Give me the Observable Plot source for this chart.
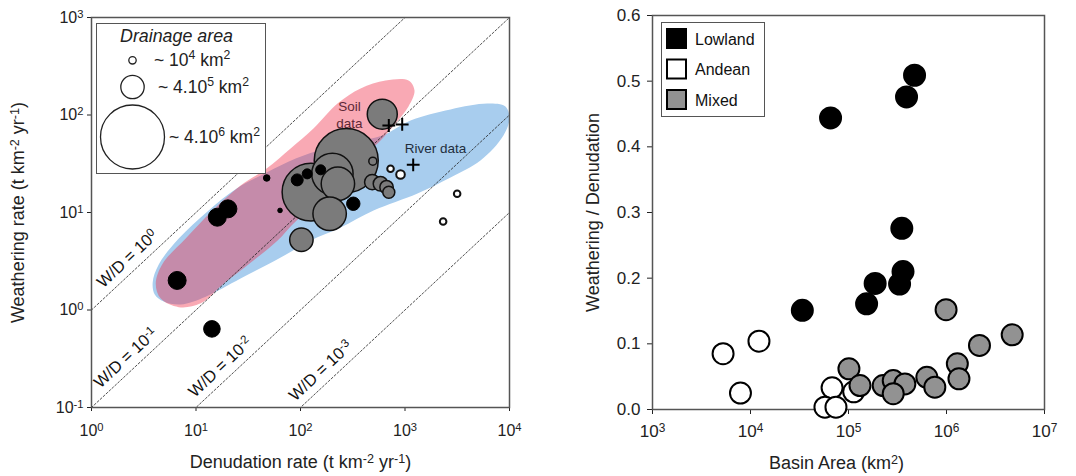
<!DOCTYPE html>
<html><head><meta charset="utf-8">
<script src="https://cdn.jsdelivr.net/npm/d3@7"></script>
<script src="https://cdn.jsdelivr.net/npm/@observablehq/plot@0.6"></script>
<style>
body{margin:0;background:#fff;font-family:"Liberation Sans",Arial,Helvetica,sans-serif;}
#wrap{position:relative;width:1076px;height:476px;overflow:hidden;}
#left,#right{position:absolute;top:0;}
#left{left:0;} #right{left:540px;}
.legend{position:absolute;background:#fff;border:1.5px solid #555;box-sizing:border-box;}
#legL{left:96px;top:23px;width:170px;height:151px;}
#legR{left:661px;top:22px;width:104px;height:95px;}
</style></head><body>
<div id="wrap"><div id="left"></div><div id="right"></div>
<div id="legL" class="legend"></div><div id="legR" class="legend"></div></div>
<script>
// ---------- LEFT PANEL DATA ----------
const lowlandDen  = [6.6, 14.2, 16.0, 20.2, 47.5, 63.7, 93, 116, 156, 320];
const lowlandWea  = [2.01, 0.64, 8.95, 10.9, 22.6, 10.5, 21.6, 24.9, 27.4, 12.3];
const lowlandArea = [2.05e5, 1.65e5, 2.05e5, 2.05e5, 7.9e3, 3.9e3, 6.4e4, 3.5e4, 3.5e4, 9e4];

const mixedDen  = [274, 126, 202, 228, 190, 102, 606, 486, 583, 666, 700, 492];
const mixedWea  = [34.1, 16.2, 24.9, 19.7, 9.7, 5.25, 102, 20.5, 19.7, 18.2, 16.1, 33.6];
const mixedArea = [4.0e6, 3.2e6, 1.53e6, 9.4e5, 9.4e5, 4.0e5, 7.3e5, 1.34e5, 1.15e5, 9e4, 6.4e4, 1.44e4];

const andeanDen  = [727, 906, 3155, 2317];
const andeanWea  = [28.1, 24.5, 15.6, 8.1];
const andeanArea = [7.9e3, 1.96e4, 7.9e3, 7.9e3];

const crossDen = [700, 940, 1198];
const crossWea = [78, 80, 30.8];

// envelopes (denudation, weathering)
const soilEnvDen = [4.12, 4.81, 7.97, 14.4, 26.7, 47.4, 80.4, 133, 226, 376, 652, 1080, 1233, 1080, 811, 583, 376, 194, 85.9, 60.4, 26.7, 18.0, 11.1, 6.84, 4.60];
const soilEnvWea = [1.87, 3.0, 5.41, 10.5, 18.9, 28.3, 45.3, 72.7, 131, 187, 226, 226, 178, 122, 81.8, 54.7, 35.8, 16.8, 7.71, 5.16, 2.54, 1.83, 1.17, 1.07, 1.31];
const riverEnvDen = [3.85, 4.40, 6.84, 13.2, 24.5, 47.4, 89.9, 174, 337, 610, 1130, 2727, 6156, 9141, 9980, 8750, 5272, 2727, 1318, 500, 242, 125, 64.6, 26.7, 12.4, 7.15, 4.91, 4.03];
const riverEnvWea = [1.91, 2.93, 5.41, 10.5, 17.6, 25.7, 35.8, 45.3, 53.5, 61.7, 87.9, 114, 131, 122, 92, 61.7, 34.1, 22.9, 15.7, 10.5, 7.02, 5.16, 3.45, 2.10, 1.37, 1.14, 1.22, 1.44];

const wdRatios = [1, 0.1, 0.01, 0.001];
const wdLabels = ["W/D = 10^0", "W/D = 10^-1", "W/D = 10^-2", "W/D = 10^-3"];
const wdLabelDen = [2.68, 2.59, 20.8, 190];

const annoText = ["Soil\ndata", "River data"];
const annoDen = [294, 1955];
const annoWea = [102, 46.4];

const legendTitle = "Drainage area";
const legendAreas = [1e4, 4e5, 4e6];
const legendLabels = ["~ 10^4 km^2", "~ 4.10^5 km^2", "~ 4.10^6 km^2"];

const xTicksL = [1, 10, 100, 1000, 10000];
const yTicksL = [0.1, 1, 10, 100, 1000];

// ---------- RIGHT PANEL DATA ----------
const rLowArea  = [4.72e5, 3.91e5, 6.56e4, 3.5e5, 3.6e5, 3.32e5, 1.87e5, 1.53e5, 3.38e4];
const rLowRatio = [0.509, 0.476, 0.444, 0.276, 0.210, 0.191, 0.192, 0.161, 0.151];
const rAndArea  = [5.25e3, 1.22e4, 7.9e3, 6.8e4, 5.75e4, 7.45e4, 1.13e5];
const rAndRatio = [0.085, 0.104, 0.025, 0.033, 0.0035, 0.0035, 0.027];
const rMixArea  = [1.01e5, 1.31e5, 2.26e5, 2.86e5, 3.76e5, 2.86e5, 6.3e5, 7.6e5, 9.9e5, 1.29e6, 1.34e6, 2.17e6, 4.68e6];
const rMixRatio = [0.062, 0.0365, 0.0365, 0.044, 0.039, 0.024, 0.049, 0.034, 0.152, 0.0696, 0.0467, 0.0975, 0.1137];
const xTicksR = [1e3, 1e4, 1e5, 1e6, 1e7];
const yTicksR = [0, 0.1, 0.2, 0.3, 0.4, 0.5, 0.6];
const legendCats = ["Lowland", "Andean", "Mixed"];

// ---------- helpers ----------
const R_DOMAIN = [0, 1e4, 4e5, 4e6];
const R_RANGE = [0, 3.7, 11.7, 32];
const FONT = '"Liberation Sans", Arial, Helvetica, sans-serif';
const pow10 = d => "10^" + Math.round(Math.log10(d));
const zip3 = (xs, ys, as) => xs.map((x, i) => ({x, y: ys[i], a: as ? as[i] : undefined}));

function supify(root) {
  root.querySelectorAll("text, tspan").forEach(el => {
    if (el.children.length) return;
    const s = el.textContent;
    if (!s.includes("^")) return;
    const parts = s.split(/\^(-?\d+)/);
    el.textContent = "";
    parts.forEach((p, i) => {
      if (!p) return;
      const t = document.createElementNS("http://www.w3.org/2000/svg", "tspan");
      t.textContent = p;
      if (i % 2 === 1) { t.setAttribute("baseline-shift", "42%"); t.setAttribute("font-size", "70%"); }
      el.appendChild(t);
    });
  });
}

const soil = zip3(soilEnvDen, soilEnvWea);
const river = zip3(riverEnvDen, riverEnvWea);
const wdLines = wdRatios.flatMap(k => [1, 1e4].map(d => ({x: d, y: k * d, k})));
const wdLab = wdRatios.map((k, i) => ({x: wdLabelDen[i], y: k * wdLabelDen[i], t: wdLabels[i]}));
const anno = annoText.map((t, i) => ({t, x: annoDen[i], y: annoWea[i]}));

const left = Plot.plot({
  width: 540, height: 476,
  marginLeft: 91, marginRight: 31, marginTop: 17, marginBottom: 69,
  style: {fontFamily: FONT, fontSize: "16px", color: "#222", background: "transparent"},
  x: {type: "log", domain: [1, 1e4], ticks: xTicksL, tickFormat: pow10, tickSize: 4, tickPadding: 13, label: null},
  y: {type: "log", domain: [0.1, 1e3], ticks: yTicksL, tickFormat: pow10, tickSize: 4, tickPadding: 4, label: null},
  r: {type: "sqrt", domain: R_DOMAIN, range: R_RANGE},
  marks: [
    Plot.line(river, {x: "x", y: "y", curve: "catmull-rom-closed", fill: "#a8cdee", stroke: "none", clip: true}),
    Plot.line(soil, {x: "x", y: "y", curve: "catmull-rom-closed", fill: "rgb(240,40,68)", fillOpacity: 0.4, stroke: "none", clip: true}),
    Plot.line(wdLines, {x: "x", y: "y", z: "k", stroke: "#222", strokeWidth: 0.8, strokeDasharray: "2,2", clip: true}),
    Plot.text(wdLab, {x: "x", y: "y", text: "t", rotate: -43, dx: -9, dy: -9.5, fontSize: 16.5, fill: "#111"}),
    Plot.text(anno, {x: "x", y: "y", text: "t", fontSize: 13.5, lineHeight: 1.25, fill: (d) => d.t.startsWith("Soil") ? "#5e2836" : "#1f2d3d"}),
    Plot.dot(zip3(mixedDen, mixedWea, mixedArea), {x: "x", y: "y", r: "a", fill: "#7b7b7b", stroke: "#111", strokeWidth: 1.5}),
    Plot.dot(zip3(andeanDen, andeanWea, andeanArea), {x: "x", y: "y", r: "a", fill: "#fff", stroke: "#111", strokeWidth: 2}),
    Plot.dot(zip3(lowlandDen, lowlandWea, lowlandArea), {x: "x", y: "y", r: "a", fill: "#000", stroke: "#000", strokeWidth: 1}),
    Plot.dot(zip3(crossDen, crossWea), {x: "x", y: "y", symbol: "plus", r: 4.2, stroke: "#000", strokeWidth: 2}),
    Plot.frame({stroke: "#555", strokeWidth: 1.5}),
    Plot.text(["Weathering rate (t km^-2 yr^-1)"], {frameAnchor: "left", textAnchor: "middle", lineAnchor: "middle", rotate: -90, dx: -73, fontSize: 18, fill: "#222"}),
    Plot.text(["Denudation rate (t km^-2 yr^-1)"], {frameAnchor: "bottom", textAnchor: "middle", lineAnchor: "middle", dy: 55, fontSize: 18, fill: "#222"})
  ]
});
supify(left);
document.getElementById("left").appendChild(left);

const right = Plot.plot({
  width: 536, height: 476,
  marginLeft: 112, marginRight: 32, marginTop: 15, marginBottom: 67,
  style: {fontFamily: FONT, fontSize: "17px", color: "#222", background: "transparent"},
  x: {type: "log", domain: [1e3, 1e7], ticks: xTicksR, tickFormat: pow10, tickSize: 5, tickPadding: 10, label: null},
  y: {domain: [0, 0.6], ticks: yTicksR, tickFormat: d3.format(".1f"), tickSize: 5, tickPadding: 7, label: null},
  marks: [
    Plot.frame({stroke: "#555", strokeWidth: 1.5}),
    Plot.dot(zip3(rAndArea, rAndRatio), {x: "x", y: "y", r: 10.5, fill: "#fff", stroke: "#000", strokeWidth: 2}),
    Plot.dot(zip3(rMixArea, rMixRatio), {x: "x", y: "y", r: 10.5, fill: "#929292", stroke: "#000", strokeWidth: 2}),
    Plot.dot(zip3(rLowArea, rLowRatio), {x: "x", y: "y", r: 10.5, fill: "#000", stroke: "#000", strokeWidth: 2}),
    Plot.text(["Weathering / Denudation"], {frameAnchor: "left", textAnchor: "middle", lineAnchor: "middle", rotate: -90, dx: -59, fontSize: 18, fill: "#222"}),
    Plot.text(["Basin Area (km^2)"], {frameAnchor: "bottom", textAnchor: "middle", lineAnchor: "middle", dx: -12, dy: 54, fontSize: 18, fill: "#222"})
  ]
});
supify(right);
document.getElementById("right").appendChild(right);

// ---------- legends ----------
const rS = d3.scaleSqrt().domain(R_DOMAIN).range(R_RANGE);
const legCy = [36.3, 63, 113];
const legTx = [57, 61, 72];
let s = `<svg width="167" height="148" font-family='${FONT}' style="display:block">`;
s += `<text x="23" y="12" dominant-baseline="central" font-style="italic" font-size="18" textLength="113" lengthAdjust="spacingAndGlyphs" fill="#222">${legendTitle}</text>`;
legendAreas.forEach((a, i) => {
  s += `<circle cx="35.5" cy="${legCy[i]}" r="${rS(a)}" fill="#fff" stroke="#222" stroke-width="1.3"/>`;
  s += `<text x="${legTx[i]}" y="${legCy[i]}" dominant-baseline="central" style="font-size:17.5px" fill="#222">${legendLabels[i]}</text>`;
});
s += `</svg>`;
const legL = document.getElementById("legL");
legL.innerHTML = s;
supify(legL);

const catFill = {Lowland: "#000", Andean: "#fff", Mixed: "#929292"};
let s2 = `<svg width="101" height="92" font-family='${FONT}' style="display:block">`;
legendCats.forEach((c, i) => {
  const y = 6 + i * 30.5;
  s2 += `<rect x="5" y="${y}" width="19" height="19" fill="${catFill[c]}" stroke="#000" stroke-width="2"/>`;
  s2 += `<text x="33" y="${y + 10}" dominant-baseline="central" style="font-size:16px" fill="#111">${c}</text>`;
});
s2 += `</svg>`;
document.getElementById("legR").innerHTML = s2;
</script>
</body></html>
